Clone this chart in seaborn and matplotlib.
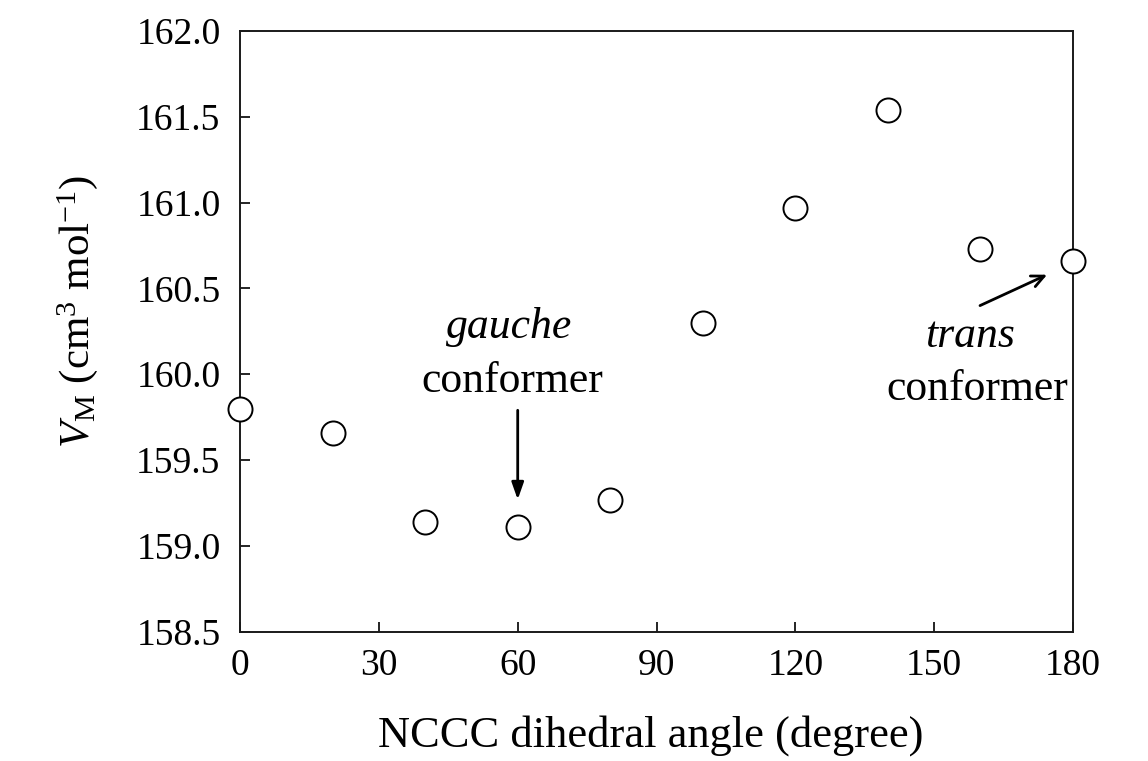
import matplotlib
matplotlib.use("Agg")
import matplotlib.pyplot as plt
import seaborn as sns
import pandas as pd

# NCCC dihedral angle scan of the molar volume
angle_deg = [0, 20, 40, 60, 80, 100, 120, 140, 160, 180]
molar_volume = [159.80, 159.66, 159.14, 159.11, 159.27, 160.30, 160.97, 161.54, 160.73, 160.66]

x_ticks = [0, 30, 60, 90, 120, 150, 180]
y_ticks = [158.5, 159.0, 159.5, 160.0, 160.5, 161.0, 161.5, 162.0]

df = pd.DataFrame({"angle": angle_deg, "vm": molar_volume})

sns.set_theme(style="ticks")
plt.rcParams["font.family"] = ["Liberation Serif", "DejaVu Serif"]
plt.rcParams["mathtext.fontset"] = "custom"
plt.rcParams["mathtext.rm"] = "Liberation Serif"
plt.rcParams["mathtext.it"] = "Liberation Serif:italic"
plt.rcParams["text.color"] = "black"
plt.rcParams["axes.labelcolor"] = "black"

fig = plt.figure(figsize=(11.48, 7.61), dpi=100)
ax = fig.add_axes([0.2091, 0.1699, 0.7256, 0.7894])

sns.scatterplot(data=df, x="angle", y="vm", ax=ax, s=300, marker="o",
                facecolor="white", edgecolor="black", linewidth=1.4,
                zorder=5, clip_on=False, legend=False)

ax.set_xlim(0, 180)
ax.set_ylim(158.5, 162.0)
ax.set_xticks(x_ticks)
ax.set_yticks(y_ticks)
ax.set_xticklabels([str(t) for t in x_ticks])
ax.set_yticklabels([f"{t:.1f}" for t in y_ticks])

for side in ["left", "right", "top", "bottom"]:
    ax.spines[side].set_visible(True)
    ax.spines[side].set_linewidth(1.4)
    ax.spines[side].set_color("#1a1a1a")

ax.tick_params(axis="both", direction="in", length=7, width=1.2,
               colors="black", labelsize=27)
ax.tick_params(axis="x", pad=12)
ax.tick_params(axis="y", pad=14)

ax.set_xlabel("NCCC dihedral angle (degree)", fontsize=32)
ax.xaxis.set_label_coords(0.493, -0.138)
ax.set_ylabel(r"$V_{\mathrm{M}}$ (cm$^{3}$ mol$^{-1}$)", fontsize=31)
ax.yaxis.set_label_coords(-0.168, 0.533)

ann_size = 31.5
arrow_lw = 2.0

# annotation for the gauche minimum
ax.text(58.2, 160.21, "gauche", ha="center", va="baseline", fontsize=ann_size, style="italic")
ax.text(58.8, 159.895, "conformer", ha="center", va="baseline", fontsize=ann_size)
ax.annotate("", xy=(60, 159.27), xytext=(60, 159.79),
            arrowprops=dict(arrowstyle="-|>,head_width=0.3,head_length=0.85",
                            color="black", lw=arrow_lw, shrinkA=0, shrinkB=0))

# annotation for the trans conformer
ax.text(157.7, 160.16, "trans", ha="center", va="baseline", fontsize=ann_size, style="italic")
ax.text(159.2, 159.85, "conformer", ha="center", va="baseline", fontsize=ann_size)
ax.annotate("", xy=(174.4, 160.58), xytext=(159.9, 160.40),
            arrowprops=dict(arrowstyle="->,head_width=0.35,head_length=0.75",
                            color="black", lw=arrow_lw, shrinkA=0, shrinkB=0))

fig.savefig("out.png", dpi=100, facecolor="white")
